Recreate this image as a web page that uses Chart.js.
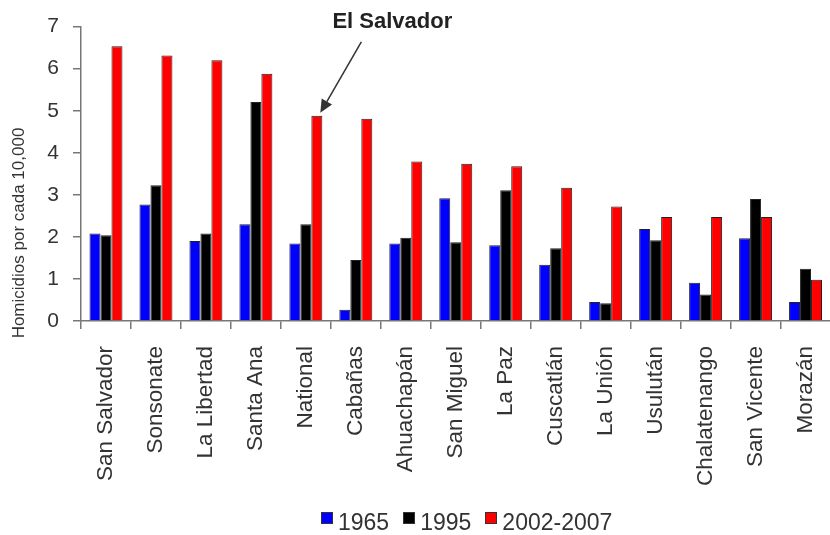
<!DOCTYPE html>
<html>
<head>
<meta charset="utf-8">
<script src="https://cdn.jsdelivr.net/npm/chart.js@4.4.0/dist/chart.umd.min.js"></script>
<style>
  html, body { margin: 0; padding: 0; background: #fff; overflow: hidden; }
  #wrap { position: relative; width: 830px; height: 535px; overflow: hidden; }
  #chart { position: absolute; left: 0; top: 0; }
  #legend { position: absolute; left: 321px; top: 511px; display: flex;
            font: 23px "Liberation Sans", Arial, sans-serif; color: #333; line-height: 22px; }
  .item { display: flex; align-items: flex-start; margin-right: 14px; }
  .box { width: 10px; height: 10px; border: 1px solid #333; margin-top: 1px; margin-right: 5px; }
</style>
</head>
<body>
<div id="wrap">
  <canvas id="chart" width="850" height="535"></canvas>
  <div id="legend"></div>
</div>
<script>
// Departments of El Salvador, sorted by 2002-2007 rate
const categories = ['San Salvador', 'Sonsonate', 'La Libertad', 'Santa Ana', 'National', 'Cabañas',
    'Ahuachapán', 'San Miguel', 'La Paz', 'Cuscatlán', 'La Unión', 'Usulután', 'Chalatenango',
    'San Vicente', 'Morazán'];
const seriesNames = ['1965', '1995', '2002-2007'];
const values1965 = [2.08, 2.77, 1.90, 2.30, 1.84, 0.27, 1.84, 2.92, 1.80, 1.34, 0.45, 2.19, 0.91, 1.97, 0.45];
const values1995 = [2.04, 3.23, 2.08, 5.21, 2.30, 1.45, 1.98, 1.87, 3.11, 1.73, 0.42, 1.92, 0.63, 2.90, 1.24];
const values2002 = [6.53, 6.31, 6.20, 5.88, 4.88, 4.81, 3.79, 3.74, 3.68, 3.17, 2.72, 2.47, 2.47, 2.47, 0.98];
const yTicks = [0, 1, 2, 3, 4, 5, 6, 7];
const seriesColors = ['#0000ff', '#000000', '#ff0000'];

const FONT = '"Liberation Sans", Arial, sans-serif';
const highlightIndex = categories.indexOf('National');

// Arrow + "El Salvador" note, and the y axis title (placed low like the original)
const notesPlugin = {
    id: 'notes',
    afterDraw(chart) {
        const c = chart.ctx;
        const bar = chart.getDatasetMeta(2).data[highlightIndex];
        const tipX = bar.x + bar.width / 2 - 2;
        const tipY = bar.y - 3;
        const startX = tipX + 41, startY = tipY - 71;

        c.save();
        c.strokeStyle = '#333';
        c.fillStyle = '#333';
        c.lineWidth = 1.5;
        const ang = Math.atan2(tipY - startY, tipX - startX);
        const headLen = 13, headW = 6;
        const baseX = tipX - headLen * Math.cos(ang), baseY = tipY - headLen * Math.sin(ang);
        c.beginPath();
        c.moveTo(startX, startY);
        c.lineTo(baseX, baseY);
        c.stroke();
        c.beginPath();
        c.moveTo(tipX, tipY);
        c.lineTo(baseX + headW * Math.sin(ang), baseY - headW * Math.cos(ang));
        c.lineTo(baseX - headW * Math.sin(ang), baseY + headW * Math.cos(ang));
        c.closePath();
        c.fill();

        c.fillStyle = '#222';
        c.font = 'bold 22px ' + FONT;
        c.textAlign = 'center';
        c.textBaseline = 'middle';
        c.fillText('El Salvador', tipX + 72, tipY - 91);

        c.fillStyle = '#333';
        c.font = '17px ' + FONT;
        c.translate(19, 233);
        c.rotate(-Math.PI / 2);
        c.fillText('Homicidios por cada 10,000', 0, 0);
        c.restore();
    }
};

const ctx = document.getElementById('chart').getContext('2d');
const chart = new Chart(ctx, {
    type: 'bar',
    data: {
        labels: categories,
        datasets: [values1965, values1995, values2002].map((vals, i) => ({
            label: seriesNames[i],
            data: vals,
            backgroundColor: seriesColors[i],
            borderColor: '#222',
            borderWidth: 1
        }))
    },
    options: {
        responsive: false,
        animation: false,
        layout: { padding: { top: 23, right: 14, left: 0, bottom: 0 } },
        datasets: { bar: { categoryPercentage: 0.66, barPercentage: 1.0 } },
        plugins: {
            legend: { display: false },
            tooltip: { enabled: false }
        },
        scales: {
            x: {
                grid: { drawOnChartArea: false, tickLength: 8, color: '#777', lineWidth: 1.5 },
                border: { color: '#777', width: 1.5 },
                ticks: {
                    autoSkip: false, minRotation: 90, maxRotation: 90, padding: 17,
                    color: '#333', font: { family: FONT, size: 22.5 }
                },
                afterFit: (scale) => { scale.height = 214; }
            },
            y: {
                min: 0,
                max: 7,
                afterBuildTicks: (scale) => { scale.ticks = yTicks.map(v => ({ value: v })); },
                grid: { drawOnChartArea: false, tickLength: 8, color: '#777', lineWidth: 1.5 },
                border: { color: '#777', width: 1.5 },
                ticks: { padding: 14, color: '#333', font: { family: FONT, size: 21 } },
                afterFit: (scale) => { scale.width = 81; }
            }
        }
    },
    plugins: [notesPlugin]
});

// HTML legend built from the datasets
const legend = document.getElementById('legend');
chart.data.datasets.forEach(ds => {
    const item = document.createElement('div');
    item.className = 'item';
    item.innerHTML = '<div class="box" style="background:' + ds.backgroundColor + '"></div><span>' + ds.label + '</span>';
    legend.appendChild(item);
});
</script>
</body>
</html>
